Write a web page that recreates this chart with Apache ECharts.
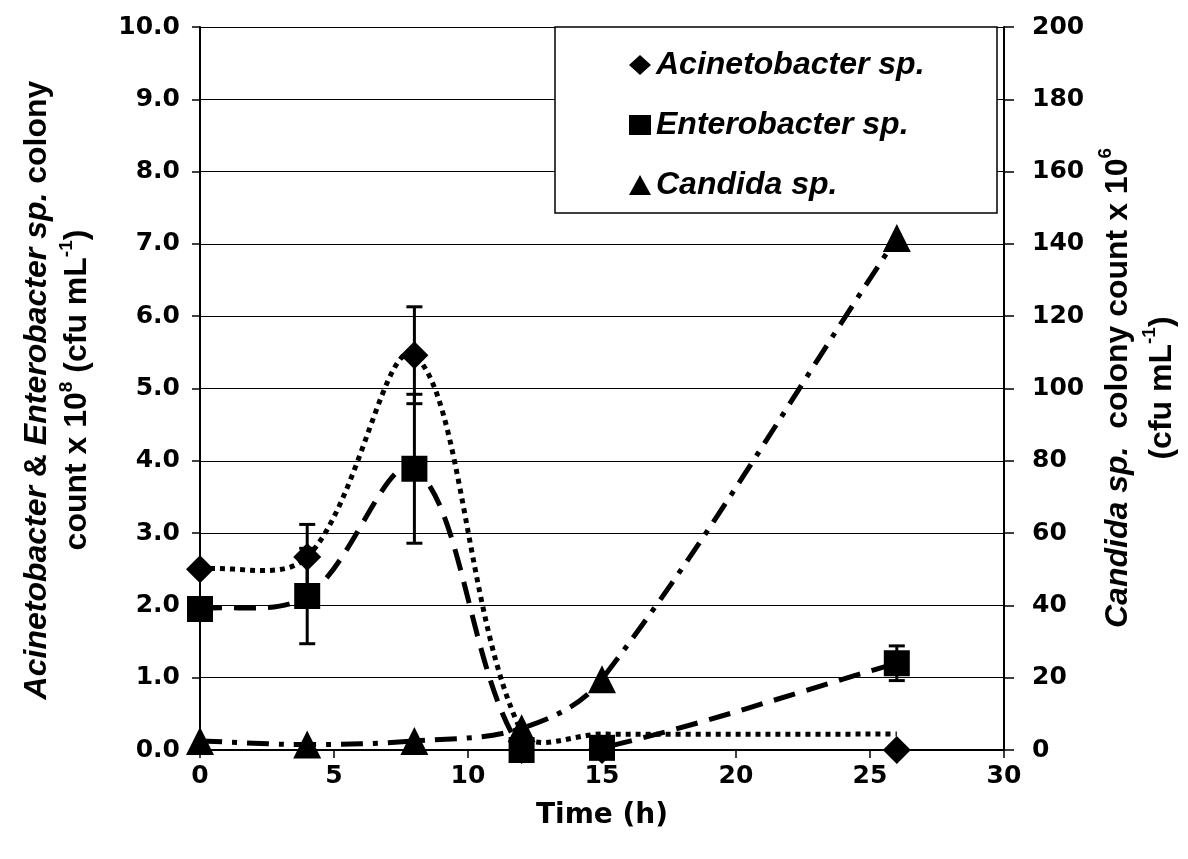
<!DOCTYPE html>
<html>
<head>
<meta charset="utf-8">
<script src="https://cdn.jsdelivr.net/npm/echarts@6/dist/echarts.min.js"></script>
<style>
html,body{margin:0;padding:0;background:#fff;}
#chart{width:1188px;height:859px;}
</style>
</head>
<body>
<div id="chart"></div>
<script>
// ---- data ----
const times = [0, 4, 8, 12, 15, 26];
const acinetobacter = [2.50, 2.67, 5.46, 0.00, 0.00, 0.00];
const acinetobacterCurve = [2.50, 2.67, 5.46, 0.25, 0.22, 0.22];
const acinetobacterErr = [0, 0.45, 0.67, 0, 0, 0];
const enterobacter = [1.95, 2.13, 3.89, 0.00, 0.03, 1.20];
const enterobacterErr = [0, 0.66, 1.03, 0, 0, 0.24];
const candida = [2.5, 1.5, 2.5, 6.0, 19.6, 141.6];
const leftTicks = [0, 10, 1];
const rightTicks = [0, 200, 20];
const xTicks = [0, 30, 5];
const seriesNames = ['Acinetobacter sp.', 'Enterobacter sp.', 'Candida sp.'];

const pairs = (arr) => times.map((t, i) => [t, arr[i]]);
const errPairs = (arr, err) => times.map((t, i) => [t, arr[i], err[i]]).filter(d => d[2] > 0);

const chart = echarts.init(document.getElementById('chart'), null, {renderer: 'canvas'});

const tickFont = {color: '#000', fontFamily: 'DejaVu Sans', fontWeight: 'bold', fontSize: 25};
const titleFamily = 'Liberation Sans';
function richSet(size, lh) {
  const n = {fontFamily: titleFamily, fontWeight: 'bold', fontSize: size, lineHeight: lh, fill: '#000', color: '#000'};
  return {
    n: n,
    i: Object.assign({}, n, {fontStyle: 'italic'}),
    s: {fontFamily: titleFamily, fontWeight: 'bold', fontSize: Math.round(size * 0.58), lineHeight: Math.round(size * 0.6), verticalAlign: 'top', fill: '#000', color: '#000'}
  };
}

// smooth curve through the points, computed in pixel space via the axes
function smoothPath(xs, ys, api, s) {
  const p = xs.map((x, i) => api.coord([x, ys[i]]));
  const n = p.length;
  const cpF = [], cpB = [];
  for (let i = 0; i < n; i++) {
    const prev = p[i - 1] || p[i], next = p[i + 1] || p[i];
    const vx = next[0] - prev[0], vy = next[1] - prev[1];
    const d0 = Math.hypot(p[i][0] - prev[0], p[i][1] - prev[1]);
    const d1 = Math.hypot(next[0] - p[i][0], next[1] - p[i][1]);
    const tot = (d0 + d1) || 1;
    cpF[i] = [p[i][0] + vx * s * d1 / tot, p[i][1] + vy * s * d1 / tot];
    cpB[i] = [p[i][0] - vx * s * d0 / tot, p[i][1] - vy * s * d0 / tot];
  }
  let d = 'M' + p[0][0] + ' ' + p[0][1];
  for (let i = 0; i < n - 1; i++) {
    d += ' C' + cpF[i][0] + ' ' + cpF[i][1] + ' ' + cpB[i + 1][0] + ' ' + cpB[i + 1][1] + ' ' + p[i + 1][0] + ' ' + p[i + 1][1];
  }
  return d;
}

function curveSeries(name, values, yAxisIndex, dash) {
  return {
    name: name, type: 'custom', yAxisIndex: yAxisIndex, data: pairs(values), silent: true, z: 2,
    renderItem: (params, api) => {
      if (params.dataIndex !== 0) return null;
      const cs = params.coordSys;
      return {
        type: 'path',
        shape: {pathData: smoothPath(times, values, api, 0.35)},
        style: {fill: 'none', stroke: '#000', lineWidth: 5, lineDash: dash, lineCap: 'butt'},
        clipPath: {type: 'rect', shape: {x: cs.x, y: cs.y, width: cs.width, height: cs.height}}
      };
    }
  };
}

function errorBars(params, api) {
  const x = api.value(0), y = api.value(1), e = api.value(2);
  const top = api.coord([x, y + e]);
  const bot = api.coord([x, y - e]);
  const hw = 8;
  const st = {stroke: '#000', lineWidth: 3};
  return {
    type: 'group',
    children: [
      {type: 'line', shape: {x1: top[0], y1: top[1], x2: bot[0], y2: bot[1]}, style: st},
      {type: 'line', shape: {x1: top[0] - hw, y1: top[1], x2: top[0] + hw, y2: top[1]}, style: st},
      {type: 'line', shape: {x1: bot[0] - hw, y1: bot[1], x2: bot[0] + hw, y2: bot[1]}, style: st}
    ]
  };
}

const option = {
  animation: false,
  backgroundColor: '#fff',
  grid: {left: 200, right: 184, top: 27, bottom: 109, containLabel: false},
  xAxis: {
    type: 'value', min: xTicks[0], max: xTicks[1], interval: xTicks[2],
    axisLine: {show: true, onZero: false, lineStyle: {color: '#000', width: 2}},
    axisTick: {show: true, length: 8, lineStyle: {color: '#000', width: 1.5}},
    splitLine: {show: false},
    axisLabel: Object.assign({margin: 14}, tickFont),
    name: 'Time (h)', nameLocation: 'middle', nameGap: 52,
    nameTextStyle: {color: '#000', fontFamily: 'DejaVu Sans', fontWeight: 'bold', fontSize: 28}
  },
  yAxis: [
    {
      type: 'value', position: 'left', min: leftTicks[0], max: leftTicks[1], interval: leftTicks[2],
      axisLine: {show: true, onZero: false, lineStyle: {color: '#000', width: 2}},
      axisTick: {show: true, length: 8, lineStyle: {color: '#000', width: 1.5}},
      splitLine: {show: true, lineStyle: {color: '#000', width: 1.2}},
      axisLabel: Object.assign({margin: 20, formatter: v => v.toFixed(1)}, tickFont)
    },
    {
      type: 'value', position: 'right', min: rightTicks[0], max: rightTicks[1], interval: rightTicks[2],
      axisLine: {show: true, onZero: false, lineStyle: {color: '#000', width: 2}},
      axisTick: {show: true, length: 10, lineStyle: {color: '#000', width: 1.5}},
      splitLine: {show: false},
      axisLabel: Object.assign({margin: 28}, tickFont)
    }
  ],
  legend: {
    show: true, orient: 'vertical', left: 629, top: 49,
    itemWidth: 22, itemHeight: 20, itemGap: 28,
    padding: 0, backgroundColor: 'transparent', borderWidth: 0,
    textStyle: {color: '#000', fontFamily: 'Liberation Sans', fontWeight: 'bold', fontStyle: 'italic', fontSize: 32},
    data: [
      {name: seriesNames[0], icon: 'diamond'},
      {name: seriesNames[1], icon: 'rect'},
      {name: seriesNames[2], icon: 'triangle'}
    ],
    z: 6
  },
  graphic: [
    {type: 'rect', shape: {x: 555, y: 27, width: 442, height: 186}, style: {fill: '#fff', stroke: '#000', lineWidth: 1.5}, z: 5},
    {
      type: 'text', x: 57, y: 390, rotation: Math.PI / 2, z: 5,
      style: {
        text: '{i|Acinetobacter}{n| & }{i|Enterobacter sp.}{n| colony}\n{n|count x 10}{s|8}{n| (cfu mL}{s|-1}{n|)}',
        rich: richSet(32, 40), align: 'center', verticalAlign: 'middle', fill: '#000'
      }
    },
    {
      type: 'text', x: 1140, y: 388, rotation: Math.PI / 2, z: 5,
      style: {
        text: '{i|Candida sp.}{n|  colony count x 10}{s|6}\n{n|(cfu mL}{s|-1}{n|)}',
        rich: richSet(32, 44), align: 'center', verticalAlign: 'middle', fill: '#000'
      }
    }
  ],
  series: [
    curveSeries('Acinetobacter curve', acinetobacterCurve, 0, [5, 5]),
    curveSeries('Enterobacter curve', enterobacter, 0, [22, 12]),
    curveSeries('Candida curve', candida, 1, [22, 10, 5, 10]),
    {
      name: 'Acinetobacter error', type: 'custom', yAxisIndex: 0, data: errPairs(acinetobacter, acinetobacterErr),
      renderItem: errorBars, z: 3, silent: true
    },
    {
      name: 'Enterobacter error', type: 'custom', yAxisIndex: 0, data: errPairs(enterobacter, enterobacterErr),
      renderItem: errorBars, z: 3, silent: true
    },
    {
      name: seriesNames[0], type: 'scatter', yAxisIndex: 0, data: pairs(acinetobacter),
      symbol: 'diamond', symbolSize: 28, itemStyle: {color: '#000', opacity: 1}, z: 4
    },
    {
      name: seriesNames[1], type: 'scatter', yAxisIndex: 0, data: pairs(enterobacter),
      symbol: 'rect', symbolSize: 26, itemStyle: {color: '#000', opacity: 1}, z: 4
    },
    {
      name: seriesNames[2], type: 'scatter', yAxisIndex: 1, data: pairs(candida),
      symbol: 'triangle', symbolSize: 28, itemStyle: {color: '#000', opacity: 1}, z: 4
    }
  ]
};
chart.setOption(option);
</script>
</body>
</html>
